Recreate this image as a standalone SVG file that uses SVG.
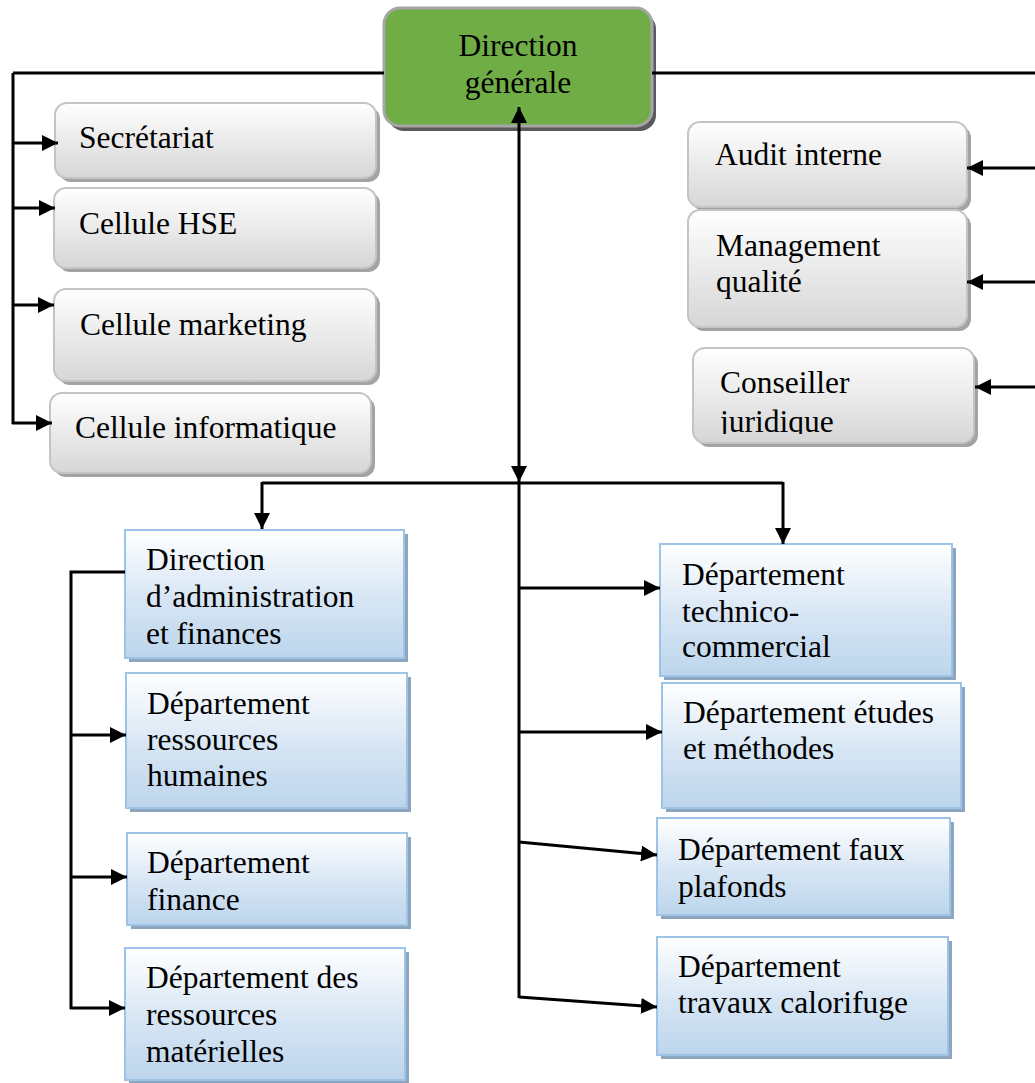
<svg xmlns="http://www.w3.org/2000/svg" width="1035" height="1083" viewBox="0 0 1035 1083">
<defs>
<linearGradient id="gGray" x1="0" y1="0" x2="0" y2="1">
<stop offset="0" stop-color="#ffffff"/>
<stop offset="1" stop-color="#d6d6d6"/>
</linearGradient>
<linearGradient id="gBlue" x1="0" y1="0" x2="0" y2="1">
<stop offset="0" stop-color="#ffffff"/>
<stop offset="0.55" stop-color="#d6e5f4"/>
<stop offset="1" stop-color="#bcd5ec"/>
</linearGradient>
<marker id="arr" viewBox="0 0 16 16" markerWidth="16" markerHeight="16" refX="16" refY="8" orient="auto-start-reverse" markerUnits="userSpaceOnUse">
<path d="M0,0 L16,8 L0,16 z" fill="#000"/>
</marker>
<clipPath id="cjClip"><rect x="693" y="348" width="282" height="86"/></clipPath>
</defs>
<style>
text{font-family:"Liberation Serif","Times New Roman",serif;font-size:31.5px;fill:#000}
.gray{fill:url(#gGray);stroke:#c4c4c4;stroke-width:2}
.gsh{fill:#a3a3a3}
.blue{fill:url(#gBlue);stroke:#9dc3e6;stroke-width:2}
.bsh{fill:#8ea5bf}
.green{fill:#70ad47;stroke:#a6a6a6;stroke-width:3}
.greensh{fill:#5a5a5a}
.c{fill:none;stroke:#000;stroke-width:3}
.a{marker-end:url(#arr)}
</style>

<g id="n-dg">
<rect class="greensh" x="388" y="13" width="268" height="118" rx="16"/>
<rect class="green" x="384" y="8" width="268" height="118" rx="16"/>
<text x="518" y="56" text-anchor="middle">Direction</text>
<text x="518" y="93" text-anchor="middle">générale</text>
</g>

<g id="n-sec">
<rect class="gsh" x="59" y="107" width="321" height="75" rx="12"/>
<rect class="gray" x="55" y="103" width="321" height="75" rx="12"/>
<text x="79" y="148">Secrétariat</text>
</g>
<g id="n-hse">
<rect class="gsh" x="58" y="192" width="322" height="80" rx="12"/>
<rect class="gray" x="54" y="188" width="322" height="80" rx="12"/>
<text x="79" y="234">Cellule HSE</text>
</g>
<g id="n-mkt">
<rect class="gsh" x="58" y="293" width="322" height="92" rx="12"/>
<rect class="gray" x="54" y="289" width="322" height="92" rx="12"/>
<text x="80" y="335">Cellule marketing</text>
</g>
<g id="n-info">
<rect class="gsh" x="54" y="397" width="321" height="80" rx="12"/>
<rect class="gray" x="50" y="393" width="321" height="80" rx="12"/>
<text x="75" y="438">Cellule informatique</text>
</g>

<g id="n-audit">
<rect class="gsh" x="692" y="126" width="279" height="85" rx="12"/>
<rect class="gray" x="688" y="122" width="279" height="85" rx="12"/>
<text x="715" y="165">Audit interne</text>
</g>
<g id="n-mq">
<rect class="gsh" x="692" y="214" width="279" height="117" rx="12"/>
<rect class="gray" x="688" y="210" width="279" height="117" rx="12"/>
<text x="716" y="256">Management</text>
<text x="716" y="292">qualité</text>
</g>
<g id="n-cj">
<rect class="gsh" x="697" y="352" width="281" height="95" rx="12"/>
<rect class="gray" x="693" y="348" width="281" height="95" rx="12"/>
<text x="720" y="393">Conseiller</text>
<text x="720" y="432" clip-path="url(#cjClip)">juridique</text>
</g>

<g id="n-daf">
<rect class="bsh" x="129" y="534" width="279" height="128"/>
<rect class="blue" x="125" y="530" width="279" height="128"/>
<text x="146" y="570">Direction</text>
<text x="146" y="607">d’administration</text>
<text x="146" y="644">et finances</text>
</g>
<g id="n-drh">
<rect class="bsh" x="130" y="677" width="281" height="135"/>
<rect class="blue" x="126" y="673" width="281" height="135"/>
<text x="147" y="714">Département</text>
<text x="147" y="750">ressources</text>
<text x="147" y="786">humaines</text>
</g>
<g id="n-fin">
<rect class="bsh" x="131" y="837" width="280" height="92"/>
<rect class="blue" x="127" y="833" width="280" height="92"/>
<text x="147" y="873">Département</text>
<text x="147" y="910">finance</text>
</g>
<g id="n-drm">
<rect class="bsh" x="129" y="952" width="280" height="132"/>
<rect class="blue" x="125" y="948" width="280" height="132"/>
<text x="146" y="988">Département des</text>
<text x="146" y="1025">ressources</text>
<text x="146" y="1062">matérielles</text>
</g>

<g id="n-tc">
<rect class="bsh" x="664" y="548" width="292" height="132"/>
<rect class="blue" x="660" y="544" width="292" height="132"/>
<text x="682" y="585">Département</text>
<text x="682" y="622">technico-</text>
<text x="682" y="657">commercial</text>
</g>
<g id="n-em">
<rect class="bsh" x="666" y="687" width="299" height="125"/>
<rect class="blue" x="662" y="683" width="299" height="125"/>
<text x="683" y="723">Département études</text>
<text x="683" y="759">et méthodes</text>
</g>
<g id="n-fp">
<rect class="bsh" x="661" y="822" width="293" height="97"/>
<rect class="blue" x="657" y="818" width="293" height="97"/>
<text x="678" y="860">Département faux</text>
<text x="678" y="897">plafonds</text>
</g>
<g id="n-cal">
<rect class="bsh" x="661" y="941" width="291" height="118"/>
<rect class="blue" x="657" y="937" width="291" height="118"/>
<text x="678" y="977">Département</text>
<text x="678" y="1013">travaux calorifuge</text>
</g>

<g id="connectors">
<path class="c" d="M13,73 H384"/>
<path class="c" d="M652,73 H1035"/>
<path class="c" d="M13,73 V424"/>
<path class="c a" d="M12,143 H58"/>
<path class="c a" d="M12,208 H55"/>
<path class="c a" d="M12,305 H54"/>
<path class="c a" d="M12,423 H52"/>
<path class="c a" d="M1035,168 H967"/>
<path class="c a" d="M1035,282 H967"/>
<path class="c a" d="M1035,387 H975"/>
<path class="c a" d="M519,482 V107" style="marker-start:url(#arr)"/>
<path class="c" d="M262,483 H783"/>
<path class="c a" d="M262,482 V529"/>
<path class="c a" d="M783,482 V544"/>
<path class="c" d="M519,483 V998"/>
<path class="c a" d="M519,588 H660"/>
<path class="c a" d="M519,732 H662"/>
<path class="c a" d="M519,842 L657,855"/>
<path class="c a" d="M519,997 L657,1007"/>
<path class="c" d="M125,572 H71 V1009"/>
<path class="c a" d="M70,735 H126"/>
<path class="c a" d="M70,877 H127"/>
<path class="c a" d="M70,1008 H125"/>
</g>
</svg>
